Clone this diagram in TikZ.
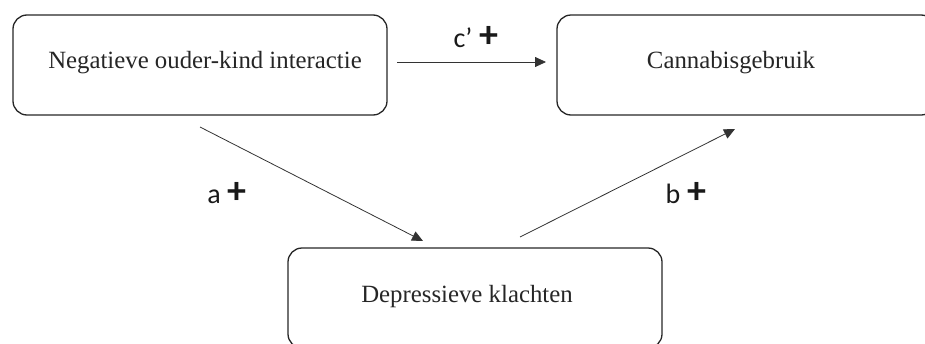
\documentclass[tikz,border=0pt]{standalone}
\usepackage{fontspec}
\setmainfont{Liberation Serif}
\newfontfamily\labfont{Carlito}
\usetikzlibrary{arrows.meta}
\newcommand{\bigplus}{{\bfseries\fontsize{38}{38}\selectfont +}}
\begin{document}
\begin{tikzpicture}[x=1pt,y=-1pt,
  boxstyle/.style={draw=black!85,line width=1.3pt,rounded corners=14pt,
    minimum width=374pt,minimum height=100pt,inner sep=0pt},
  boxtext/.style={font=\fontsize{24.8}{28}\selectfont,text=black!85,inner sep=0pt},
  labstyle/.style={font=\labfont\fontsize{28}{30}\selectfont,text=black!90,inner sep=0pt},
  arr/.style={draw=black!80,line width=0.8pt,-{Triangle[length=11pt,width=10pt]}}]
\useasboundingbox (0,0) rectangle (925,343);
% boxes
\node[boxstyle] (neg) at (200,65) {};
\node[boxstyle,minimum width=378pt] (can) at (746,65) {};
\node[boxstyle] (dep) at (475,298) {};
% texts
\node[boxtext] (negt) at (205,63) {Negatieve ouder-kind interactie};
\node[boxtext] (cant) at (731,63) {Cannabisgebruik};
\node[boxtext] (dept) at (467,297) {Depressieve klachten};
% arrow ends
\coordinate (c1) at (397,62);
\coordinate (c2) at (546,62);
\coordinate (a1) at (200,127);
\coordinate (a2) at (423,241);
\coordinate (b1) at (520,237);
\coordinate (b2) at (735,129);
\draw[arr] (c1) -- (c2);
\draw[arr] (a1) -- (a2);
\draw[arr] (b1) -- (b2);
% labels
\node[labstyle,anchor=base] (cl) at (476,47) {c’\hspace{7pt}\bigplus};
\node[labstyle,anchor=base] (al) at (227,203) {a\hspace{7pt}\bigplus};
\node[labstyle,anchor=base] (bl) at (686,203) {b\hspace{7pt}\bigplus};
\end{tikzpicture}
\end{document}
